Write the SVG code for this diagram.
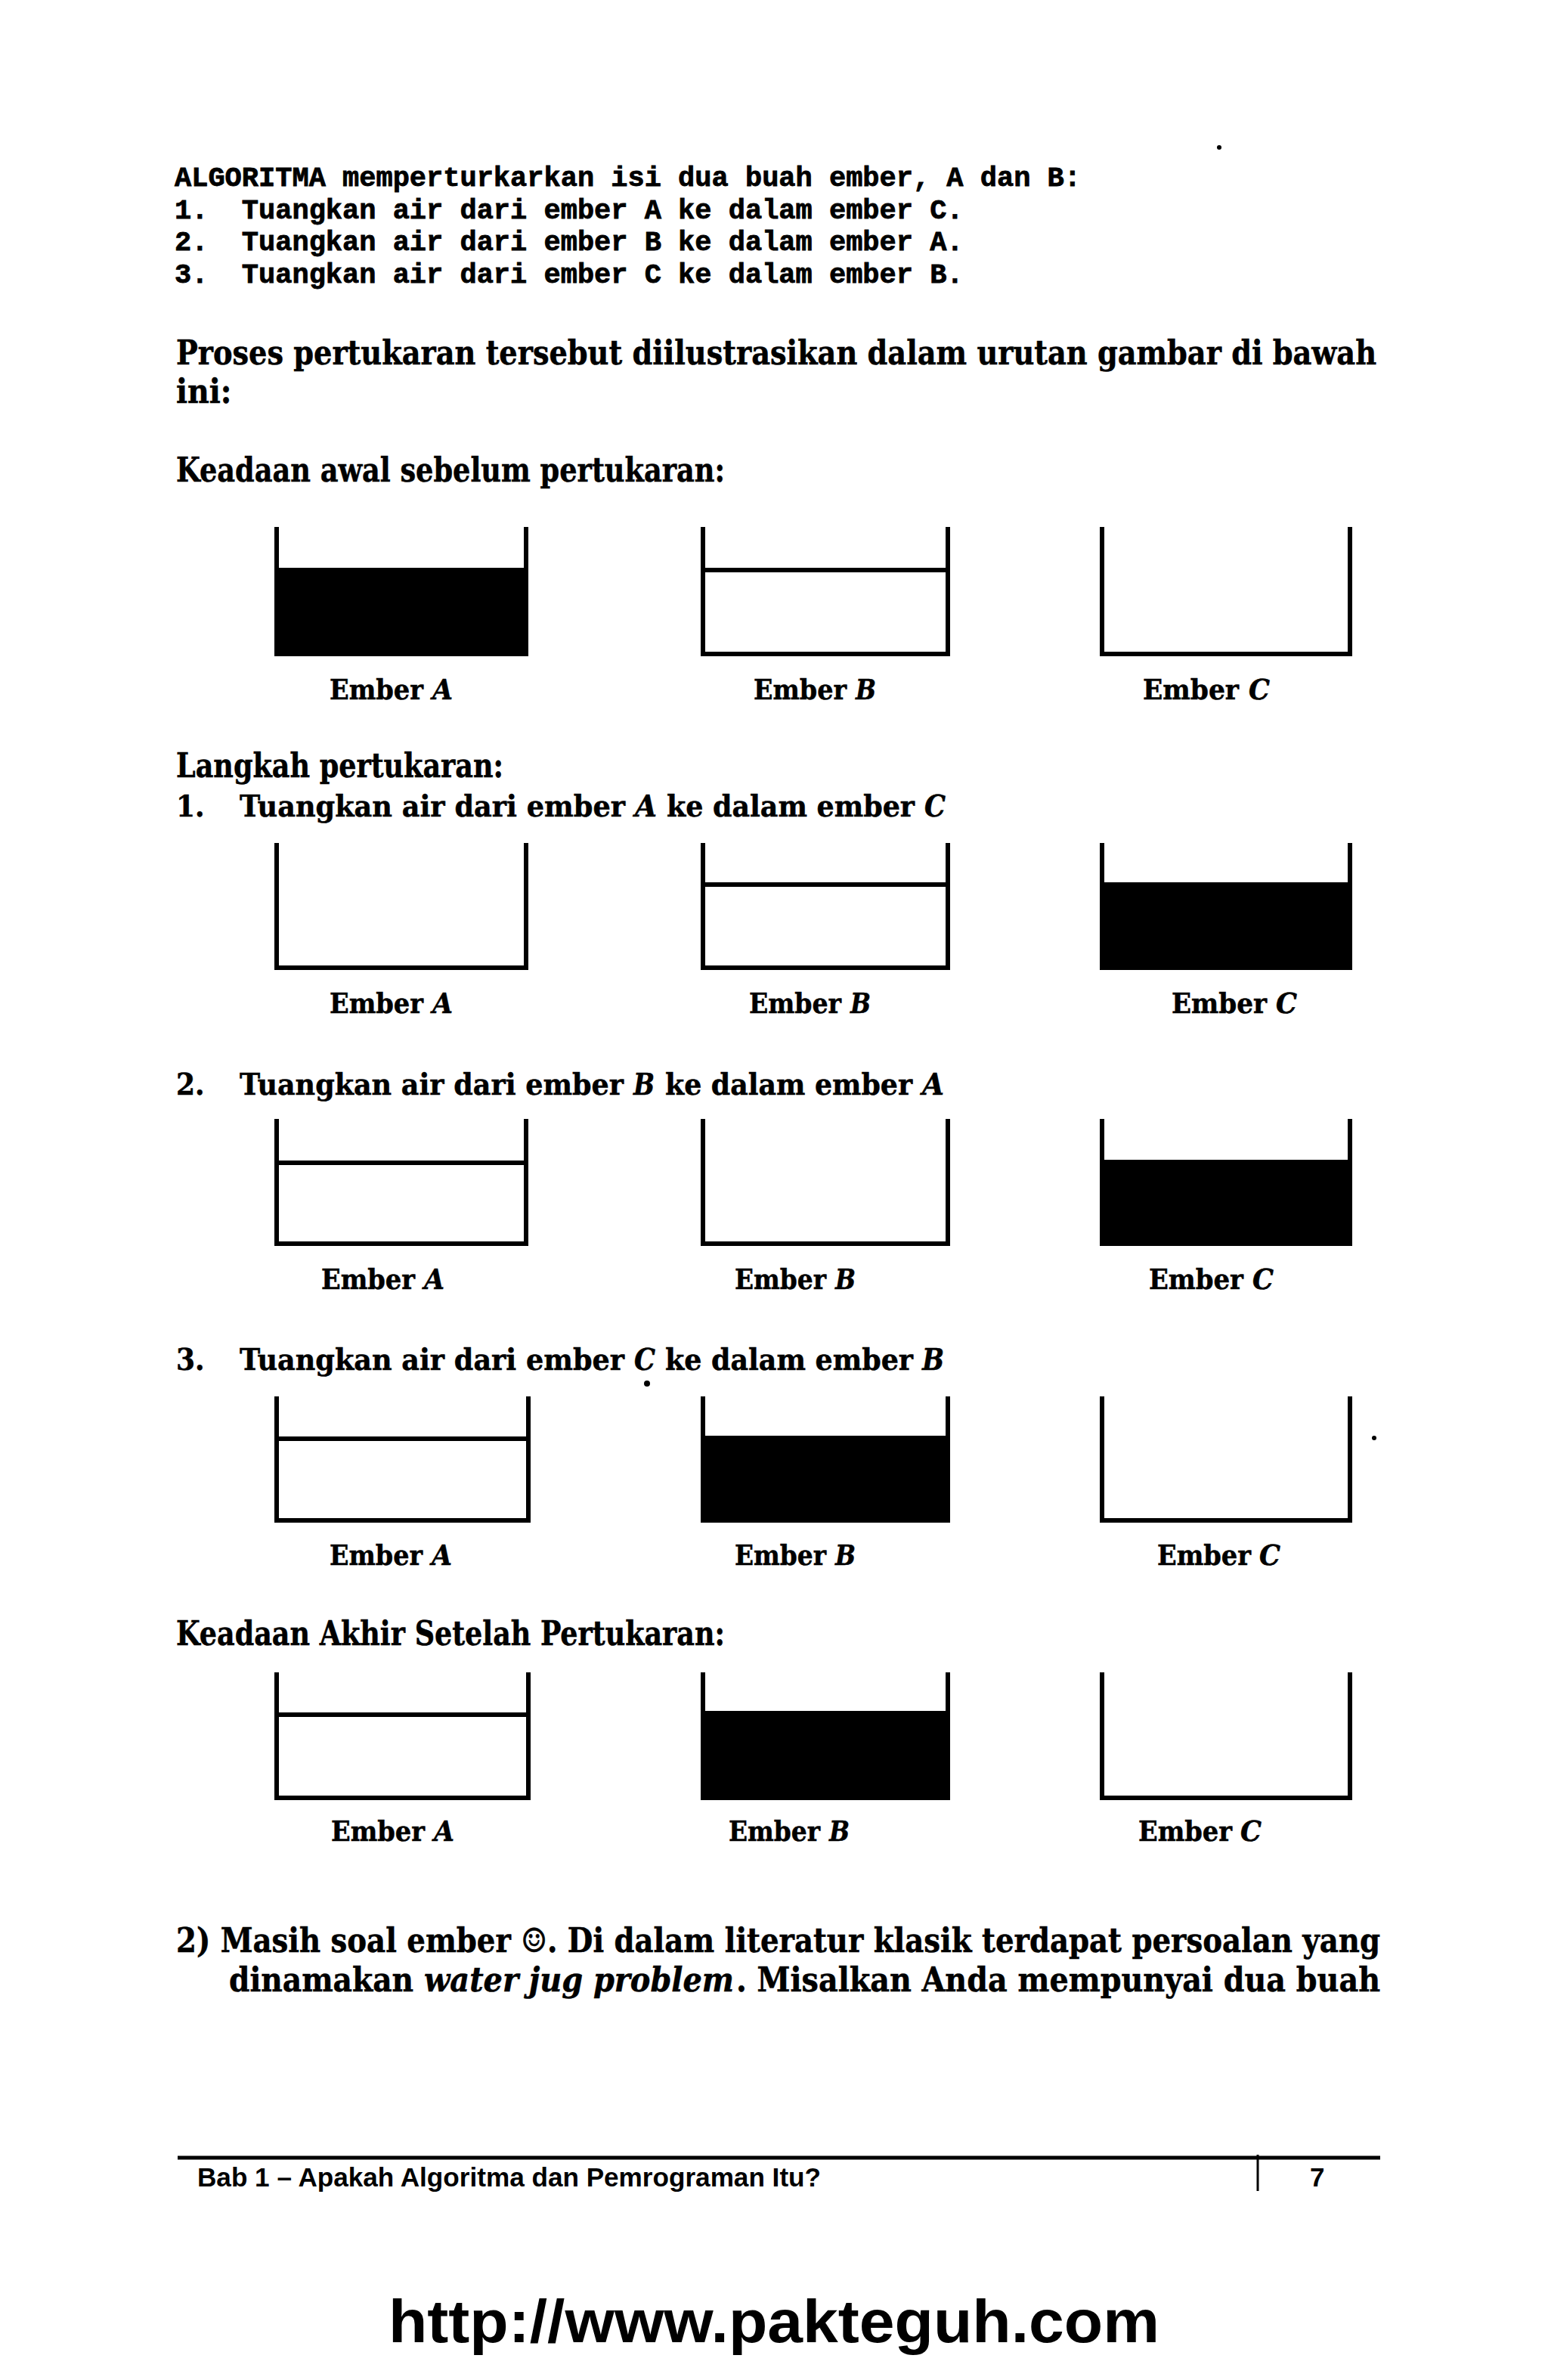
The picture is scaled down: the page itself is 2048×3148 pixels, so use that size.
<svg xmlns="http://www.w3.org/2000/svg" width="2048" height="3148" viewBox="0 0 2048 3148">
<style>
.code{font-family:"Liberation Mono","DejaVu Sans Mono",monospace;font-weight:bold;font-size:37px;fill:#000;stroke:#000;stroke-width:0.8;white-space:pre}
.body{font-family:"DejaVu Serif Condensed","DejaVu Serif","Liberation Serif",serif;font-weight:bold;font-size:44px;fill:#000;stroke:#000;stroke-width:0.5}
.step{font-size:40px}
.lb{font-size:37px}
.it{font-style:italic}
.foot{font-family:"Liberation Sans","Arial",sans-serif;font-weight:bold;font-size:35px;fill:#000}
.url{font-family:"Liberation Sans","Arial",sans-serif;font-weight:bold;font-size:80px;fill:#000}
.bk{fill:none;stroke:#000;stroke-width:6;stroke-linejoin:miter;stroke-linecap:butt}
.lvl{stroke:#000;stroke-width:6}
.water{fill:#000}
</style>
<rect width="2048" height="3148" fill="#fff"/>

<g id="code">
<text class="code" x="231" y="246">ALGORITMA memperturkarkan isi dua buah ember, A dan B:</text>
<text class="code" x="231" y="289">1.  Tuangkan air dari ember A ke dalam ember C.</text>
<text class="code" x="231" y="331">2.  Tuangkan air dari ember B ke dalam ember A.</text>
<text class="code" x="231" y="374">3.  Tuangkan air dari ember C ke dalam ember B.</text>
</g>

<g id="text">
<text class="body" x="233" y="482" textLength="1588" lengthAdjust="spacingAndGlyphs">Proses pertukaran tersebut diilustrasikan dalam urutan gambar di bawah</text>
<text class="body" x="233" y="533">ini:</text>
<text class="body" x="233" y="637" textLength="726" lengthAdjust="spacingAndGlyphs">Keadaan awal sebelum pertukaran:</text>
<text class="body" x="233" y="1028" textLength="433" lengthAdjust="spacingAndGlyphs">Langkah pertukaran:</text>

<text class="body step" x="233" y="1080">1.</text>
<text class="body step" x="317" y="1080" textLength="510" lengthAdjust="spacingAndGlyphs">Tuangkan air dari ember</text>
<text class="body step it" x="840" y="1080" textLength="29" lengthAdjust="spacingAndGlyphs">A</text>
<text class="body step" x="882" y="1080" textLength="328" lengthAdjust="spacingAndGlyphs">ke dalam ember</text>
<text class="body step it" x="1223" y="1080" textLength="28" lengthAdjust="spacingAndGlyphs">C</text>

<text class="body step" x="233" y="1448">2.</text>
<text class="body step" x="317" y="1448" textLength="508" lengthAdjust="spacingAndGlyphs">Tuangkan air dari ember</text>
<text class="body step it" x="838" y="1448" textLength="28" lengthAdjust="spacingAndGlyphs">B</text>
<text class="body step" x="880" y="1448" textLength="327" lengthAdjust="spacingAndGlyphs">ke dalam ember</text>
<text class="body step it" x="1220" y="1448" textLength="29" lengthAdjust="spacingAndGlyphs">A</text>

<text class="body step" x="233" y="1812">3.</text>
<text class="body step" x="317" y="1812" textLength="509" lengthAdjust="spacingAndGlyphs">Tuangkan air dari ember</text>
<text class="body step it" x="839" y="1812" textLength="28" lengthAdjust="spacingAndGlyphs">C</text>
<text class="body step" x="880" y="1812" textLength="328" lengthAdjust="spacingAndGlyphs">ke dalam ember</text>
<text class="body step it" x="1220" y="1812" textLength="29" lengthAdjust="spacingAndGlyphs">B</text>

<text class="body" x="233" y="2176" textLength="726" lengthAdjust="spacingAndGlyphs">Keadaan Akhir Setelah Pertukaran:</text>

<text class="body" x="233" y="2582" textLength="1593" lengthAdjust="spacingAndGlyphs">2) Masih soal ember ☺. Di dalam literatur klasik terdapat persoalan yang</text>
<text class="body" x="303" y="2634" textLength="244" lengthAdjust="spacingAndGlyphs">dinamakan</text>
<text class="body it" x="561" y="2634" textLength="410" lengthAdjust="spacingAndGlyphs">water jug problem</text>
<text class="body" x="974" y="2634" textLength="852" lengthAdjust="spacingAndGlyphs">. Misalkan Anda mempunyai dua buah</text>
</g>

<!-- Row 1: initial state -->
<g id="r1-a"><rect class="water" x="363" y="751" width="336" height="117"/><path class="bk" d="M366 697 V865 H696 V697"/>
<text class="body lb" x="436" y="925" textLength="124" lengthAdjust="spacingAndGlyphs">Ember</text><text class="body lb it" x="572" y="925" textLength="27" lengthAdjust="spacingAndGlyphs">A</text></g>
<g id="r1-b"><line class="lvl" x1="927" y1="754" x2="1257" y2="754"/><path class="bk" d="M930 697 V865 H1254 V697"/>
<text class="body lb" x="997" y="925" textLength="123" lengthAdjust="spacingAndGlyphs">Ember</text><text class="body lb it" x="1132" y="925" textLength="27" lengthAdjust="spacingAndGlyphs">B</text></g>
<g id="r1-c"><path class="bk" d="M1458 697 V865 H1786 V697"/>
<text class="body lb" x="1512" y="925" textLength="127" lengthAdjust="spacingAndGlyphs">Ember</text><text class="body lb it" x="1652" y="925" textLength="28" lengthAdjust="spacingAndGlyphs">C</text></g>

<!-- Row 2 -->
<g id="r2-a"><path class="bk" d="M366 1115 V1280 H696 V1115"/>
<text class="body lb" x="436" y="1340" textLength="124" lengthAdjust="spacingAndGlyphs">Ember</text><text class="body lb it" x="572" y="1340" textLength="27" lengthAdjust="spacingAndGlyphs">A</text></g>
<g id="r2-b"><line class="lvl" x1="927" y1="1170" x2="1257" y2="1170"/><path class="bk" d="M930 1115 V1280 H1254 V1115"/>
<text class="body lb" x="991" y="1340" textLength="122" lengthAdjust="spacingAndGlyphs">Ember</text><text class="body lb it" x="1125" y="1340" textLength="27" lengthAdjust="spacingAndGlyphs">B</text></g>
<g id="r2-c"><rect class="water" x="1455" y="1167" width="334" height="116"/><path class="bk" d="M1458 1115 V1280 H1786 V1115"/>
<text class="body lb" x="1550" y="1340" textLength="126" lengthAdjust="spacingAndGlyphs">Ember</text><text class="body lb it" x="1688" y="1340" textLength="28" lengthAdjust="spacingAndGlyphs">C</text></g>

<!-- Row 3 -->
<g id="r3-a"><line class="lvl" x1="363" y1="1538" x2="699" y2="1538"/><path class="bk" d="M366 1480 V1645 H696 V1480"/>
<text class="body lb" x="425" y="1705" textLength="124" lengthAdjust="spacingAndGlyphs">Ember</text><text class="body lb it" x="561" y="1705" textLength="27" lengthAdjust="spacingAndGlyphs">A</text></g>
<g id="r3-b"><path class="bk" d="M930 1480 V1645 H1254 V1480"/>
<text class="body lb" x="972" y="1705" textLength="121" lengthAdjust="spacingAndGlyphs">Ember</text><text class="body lb it" x="1105" y="1705" textLength="27" lengthAdjust="spacingAndGlyphs">B</text></g>
<g id="r3-c"><rect class="water" x="1455" y="1534" width="334" height="114"/><path class="bk" d="M1458 1480 V1645 H1786 V1480"/>
<text class="body lb" x="1520" y="1705" textLength="125" lengthAdjust="spacingAndGlyphs">Ember</text><text class="body lb it" x="1657" y="1705" textLength="28" lengthAdjust="spacingAndGlyphs">C</text></g>

<!-- Row 4 -->
<g id="r4-a"><line class="lvl" x1="363" y1="1903" x2="702" y2="1903"/><path class="bk" d="M366 1847 V2011 H699 V1847"/>
<text class="body lb" x="436" y="2070" textLength="123" lengthAdjust="spacingAndGlyphs">Ember</text><text class="body lb it" x="571" y="2070" textLength="27" lengthAdjust="spacingAndGlyphs">A</text></g>
<g id="r4-b"><rect class="water" x="927" y="1899" width="330" height="115"/><path class="bk" d="M930 1847 V2011 H1254 V1847"/>
<text class="body lb" x="972" y="2070" textLength="121" lengthAdjust="spacingAndGlyphs">Ember</text><text class="body lb it" x="1105" y="2070" textLength="27" lengthAdjust="spacingAndGlyphs">B</text></g>
<g id="r4-c"><path class="bk" d="M1458 1847 V2011 H1786 V1847"/>
<text class="body lb" x="1531" y="2070" textLength="124" lengthAdjust="spacingAndGlyphs">Ember</text><text class="body lb it" x="1666" y="2070" textLength="28" lengthAdjust="spacingAndGlyphs">C</text></g>

<!-- Row 5: final state -->
<g id="r5-a"><line class="lvl" x1="363" y1="2268" x2="702" y2="2268"/><path class="bk" d="M366 2212 V2378 H699 V2212"/>
<text class="body lb" x="438" y="2435" textLength="124" lengthAdjust="spacingAndGlyphs">Ember</text><text class="body lb it" x="574" y="2435" textLength="27" lengthAdjust="spacingAndGlyphs">A</text></g>
<g id="r5-b"><rect class="water" x="927" y="2263" width="330" height="118"/><path class="bk" d="M930 2212 V2378 H1254 V2212"/>
<text class="body lb" x="964" y="2435" textLength="121" lengthAdjust="spacingAndGlyphs">Ember</text><text class="body lb it" x="1097" y="2435" textLength="27" lengthAdjust="spacingAndGlyphs">B</text></g>
<g id="r5-c"><path class="bk" d="M1458 2212 V2378 H1786 V2212"/>
<text class="body lb" x="1506" y="2435" textLength="124" lengthAdjust="spacingAndGlyphs">Ember</text><text class="body lb it" x="1641" y="2435" textLength="28" lengthAdjust="spacingAndGlyphs">C</text></g>

<g id="marks">
<circle cx="1613" cy="195" r="3" fill="#000"/>
<circle cx="856" cy="1830" r="4" fill="#000"/>
<circle cx="1818" cy="1902" r="3" fill="#000"/>
</g>

<g id="footer">
<line x1="235" y1="2854" x2="1826" y2="2854" stroke="#000" stroke-width="5"/>
<text class="foot" x="261" y="2892" textLength="825" lengthAdjust="spacingAndGlyphs">Bab 1 – Apakah Algoritma dan Pemrograman Itu?</text>
<line x1="1664" y1="2850" x2="1664" y2="2898" stroke="#000" stroke-width="3"/>
<text class="foot" x="1733" y="2892">7</text>
<text class="url" x="514" y="3098" textLength="1020" lengthAdjust="spacingAndGlyphs">http://www.pakteguh.com</text>
</g>
</svg>
